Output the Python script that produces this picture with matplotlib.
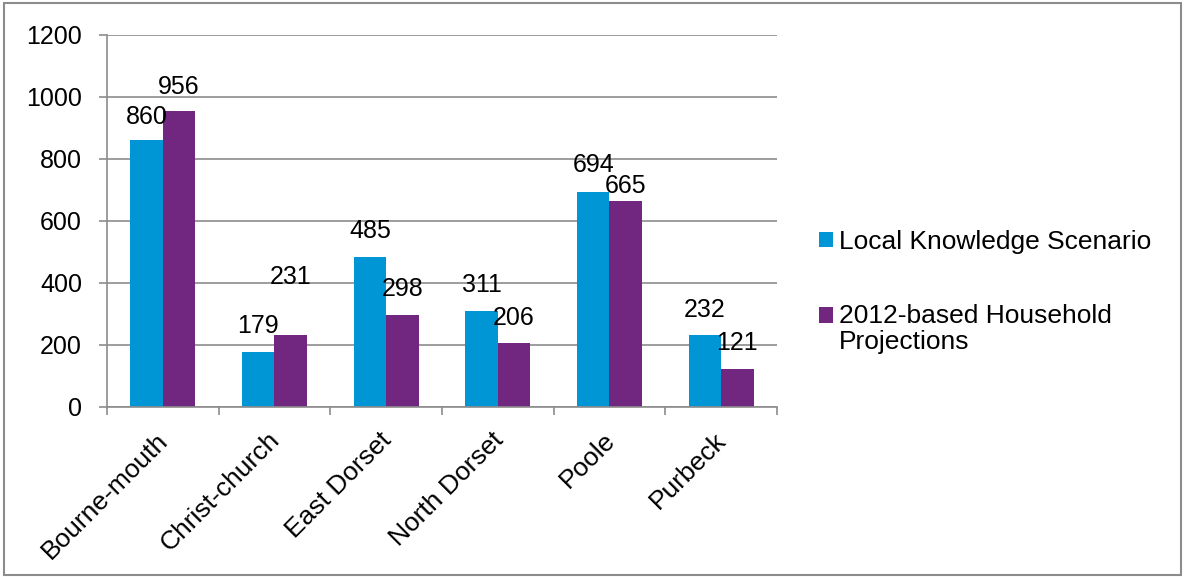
import matplotlib
matplotlib.use("Agg")
import matplotlib.pyplot as plt
import numpy as np
from matplotlib.patches import Rectangle
from matplotlib.legend_handler import HandlerPatch
from matplotlib.transforms import ScaledTranslation

plt.rcParams['font.family'] = ['Liberation Sans', 'DejaVu Sans']

categories = ["Bourne-mouth", "Christ-church", "East Dorset", "North Dorset", "Poole", "Purbeck"]
series_names = ["Local Knowledge Scenario", "2012-based Household\nProjections"]
local_knowledge = [860, 179, 485, 311, 694, 232]
projections_2012 = [956, 231, 298, 206, 665, 121]
y_ticks = [0, 200, 400, 600, 800, 1000, 1200]

colors = ["#0096D6", "#71267F"]
FS = 18
FS_BIG = 19
# label offsets in pixels above bar top (Excel's placement)
offs_a = [23, 26, 26, 26, 27, 25]
offs_b = [24, 58, 26, 25, 15, 26]


class ShiftedHandler(HandlerPatch):
    def __init__(self, dy=0.0, **kw):
        super().__init__(**kw)
        self.dy = dy

    def create_artists(self, legend, orig_handle, xdescent, ydescent, width,
                       height, fontsize, trans):
        p = Rectangle((-xdescent, -ydescent + self.dy * fontsize), width, height,
                      facecolor=orig_handle.get_facecolor(), edgecolor="none")
        p.set_transform(trans)
        return [p]


fig = plt.figure(figsize=(11.85, 5.77), dpi=100)
fig.patches.append(Rectangle((0.003, 0.004), 0.994, 0.991, transform=fig.transFigure,
                             fill=False, edgecolor="#8c8c8c", linewidth=1.5))
ax = fig.add_axes([107/1185, 1-407/577, (777-107)/1185, (407-35)/577])

x = np.arange(len(categories))
w = 0.29
b1 = ax.bar(x - w/2, local_knowledge, w, color=colors[0], label=series_names[0])
b2 = ax.bar(x + w/2, projections_2012, w, color=colors[1], label=series_names[1])

for bars, vals, offs in ((b1, local_knowledge, offs_a), (b2, projections_2012, offs_b)):
    for r, v, o in zip(bars, vals, offs):
        ax.annotate(str(v), (r.get_x() + r.get_width()/2, v), xytext=(0, o),
                    textcoords="offset pixels", ha="center", va="center", fontsize=FS)

ax.set_xlim(-0.5, len(categories) - 0.5)
ax.set_ylim(0, 1200)
ax.set_yticks(y_ticks)
ax.set_yticklabels([str(t) for t in y_ticks], fontsize=FS)
ax.yaxis.grid(True, color="#8c8c8c", linewidth=1.2)
ax.set_axisbelow(True)
ax.tick_params(axis='y', length=6, color="#8c8c8c", width=1.2, pad=12)

ax.set_xticks(np.arange(len(categories) + 1) - 0.5)
ax.set_xticklabels([])
ax.tick_params(axis='x', length=6, color="#8c8c8c", width=1.2)
ax.set_xticks(x, minor=True)
ax.set_xticklabels(categories, minor=True, rotation=45, ha="right",
                   rotation_mode="anchor", fontsize=FS_BIG)
ax.tick_params(axis='x', which='minor', length=0, pad=15)
shift = ScaledTranslation(-7/100, 0, fig.dpi_scale_trans)
for lab in ax.get_xticklabels(minor=True):
    lab.set_transform(lab.get_transform() + shift)

for s in ["top", "right"]:
    ax.spines[s].set_visible(False)
for s in ["left", "bottom"]:
    ax.spines[s].set_color("#8c8c8c")
    ax.spines[s].set_linewidth(1.2)

h1, h2 = b1.patches[0], b2.patches[0]
leg = fig.legend(handles=[h1, h2], labels=series_names, loc="upper left",
                 bbox_to_anchor=(819/1185, 1-230/577), frameon=False, fontsize=FS_BIG,
                 handlelength=0.53, handleheight=0.53, handletextpad=0.23,
                 labelspacing=1.9, borderpad=0, borderaxespad=0,
                 handler_map={h1: ShiftedHandler(0.0), h2: ShiftedHandler(0.54)})
for t in leg.get_texts():
    t.set_linespacing(1.12)

fig.savefig("out.png", dpi=100)
